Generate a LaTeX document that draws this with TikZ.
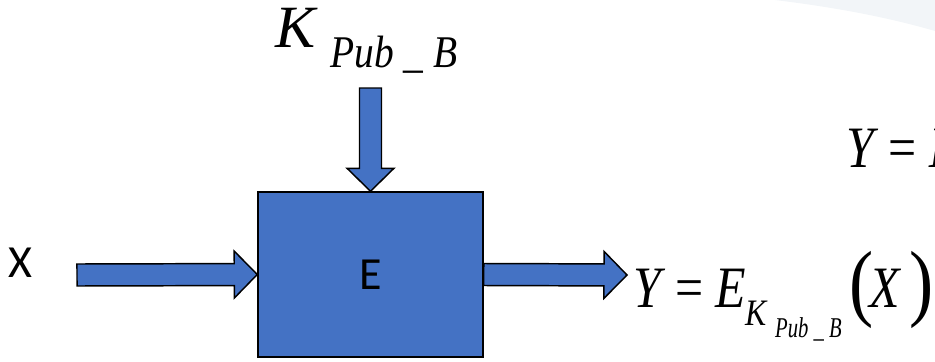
\documentclass[tikz,border=0pt]{standalone}
\usepackage{fontspec}
\usepackage{tikz}
\usetikzlibrary{calc}

\newfontfamily\carlito{Carlito}
\newfontfamily\tnr{Liberation Serif}
\definecolor{encblue}{HTML}{4472C4}
\definecolor{swoosh}{HTML}{F2F5F8}

\tikzset{
  fat/.style={draw=black, line width=1.1pt, fill=encblue, to path={
      -- ($(\tikztostart)!8.25pt!90:(\tikztotarget)$)
      -- ($(\tikztotarget)!17.25pt!(\tikztostart)!8.25pt!-90:(\tikztostart)$)
      -- ($(\tikztotarget)!17.25pt!(\tikztostart)!17.6pt!-90:(\tikztostart)$)
      -- (\tikztotarget)
      -- ($(\tikztotarget)!17.25pt!(\tikztostart)!17.6pt!90:(\tikztostart)$)
      -- ($(\tikztotarget)!17.25pt!(\tikztostart)!8.25pt!90:(\tikztostart)$)
      -- ($(\tikztostart)!8.25pt!-90:(\tikztotarget)$)
      -- cycle}},
  eqtxt/.style={inner sep=0pt, anchor=base west, font=\tnr\itshape\fontsize{#1}{#1}\selectfont},
  equp/.style={inner sep=0pt, anchor=base west, font=\tnr\fontsize{#1}{#1}\selectfont},
  sanstxt/.style={inner sep=0pt, font=\carlito\fontsize{34.5}{34.5}\selectfont}
}

\begin{document}
\begin{tikzpicture}[x=0.75pt,y=0.75pt,yscale=-1,xscale=1]

            \clip (0,0) rectangle (935,361);

            % Background
            \fill[swoosh] (775,0) .. controls (840,8) and (890,18) .. (935,31) -- (935,0) -- cycle;

            % Box
            \draw (370.5,274.5) node [draw=black, line width=1.1pt, fill=encblue, minimum width=168.75pt, minimum height=123.75pt, sanstxt] (enc) {E};
            \draw (20,263) node [sanstxt] (xin) {X};

            % Arrows
            \coordinate (xstart) at (77,275);
            \coordinate (kstart) at (370.5,88);
            \coordinate (yend) at (627,275);
            \draw[fat] (xstart) to (enc.west);
            \draw[fat] (kstart) to (enc.north);
            \draw[fat] (enc.east) to (yend);

            % Key label
            \draw (275,47) node [eqtxt=45] (key) {K};
            \draw (330,67) node [eqtxt=34, xscale=0.87] (keysub) {Pub \_ B};

            % Output formula
            \draw (633,307) node [eqtxt=44, xscale=0.85] (ylhs) {Y};
            \draw (675,307) node [equp=44, xscale=0.85] (eqsign) {=};
            \draw (715,307) node [eqtxt=44, xscale=0.85] (enca) {E};
            \draw (745,325) node [eqtxt=28, xscale=0.85] (ksub) {K};
            \draw (775,337) node [eqtxt=21.5, xscale=0.72] (pubsub) {Pub \_ B};
            \draw (849,310) node [equp=64, xscale=0.85] (lpar) {(};
            \draw (869,307) node [eqtxt=44, xscale=0.85] (xarg) {X};
            \draw (909,310) node [equp=64, xscale=0.85] (rpar) {)};

            % Upper formula
            \draw (846,167) node [eqtxt=44, xscale=0.85] (ytop) {Y};
            \draw (888,167) node [equp=44, xscale=0.85] (eqtop) {=};
            \draw (929,167) node [eqtxt=44, xscale=0.85] (etop) {E};

            \end{tikzpicture}
\end{document}
